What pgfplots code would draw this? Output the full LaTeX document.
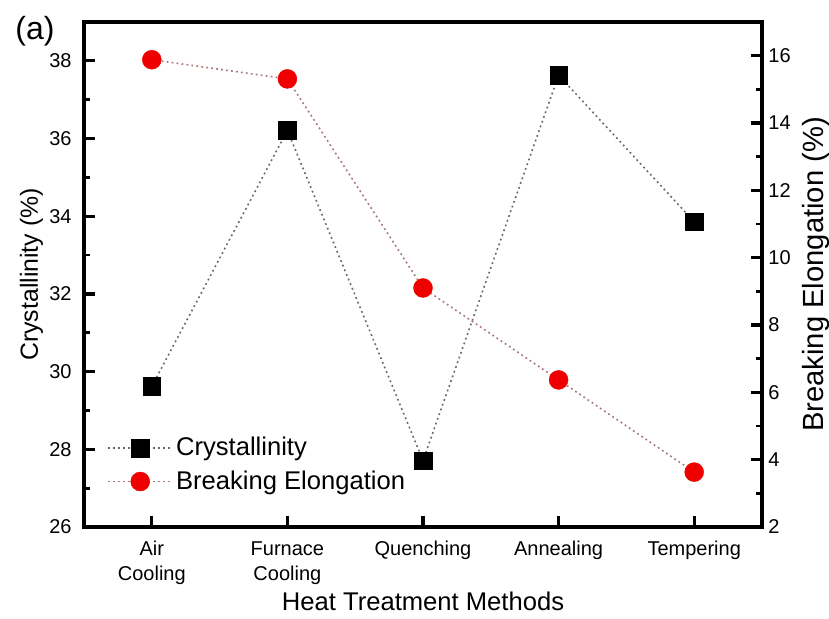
\documentclass[border=0pt]{standalone}
\usepackage{fontspec}
\setmainfont{Liberation Sans}
\usepackage{pgfplots}
\pgfplotsset{compat=1.18}

% Series colours
\definecolor{markred}{RGB}{238,0,0}
\definecolor{crysline}{RGB}{105,105,105}
\definecolor{elongline}{RGB}{170,120,120}

\pgfplotsset{
  common/.style={
    scale only axis,
    width=339pt, height=252.5pt,
    at={(42pt,45.5pt)}, anchor=south west,
    xmin=-0.5, xmax=4.5,
    tick align=inside,
    major tick length=5.5pt,
    minor tick length=3.2pt,
    every tick/.style={black, line width=1.6pt},
    every minor tick/.style={black, line width=1.4pt},
    minor y tick num=1,
    /pgf/number format/assume math mode=true,
    tick label style={font=\fontsize{10}{12}\selectfont},
    axis line style={line width=1.9pt},
    clip=false,
  },
  legend image code/.code={%
    \draw[mark repeat=2,mark phase=2,#1]
      plot coordinates {(0pt,0pt) (16pt,0pt) (32pt,0pt)};%
  },
}

\begin{document}
\begin{tikzpicture}
\path[use as bounding box] (0,0) rectangle (414.5pt,309pt);

% Left axis: crystallinity
\begin{axis}[
  common,
  ymin=26, ymax=39,
  ytick={26,28,30,32,34,36,38},
  xtick={0,1,2,3,4},
  xticklabels={{Air\\Cooling},{Furnace\\Cooling},Quenching,Annealing,Tempering},
  xtick pos=left, ytick pos=left,
  xticklabel style={align=center, anchor=north, inner sep=0pt, yshift=-7pt,
    font=\fontsize{10}{12.5}\selectfont},
  yticklabel style={inner sep=0pt, xshift=-6pt},
  xlabel={Heat Treatment Methods},
  ylabel={Crystallinity (\%)},
  xlabel style={at={(axis description cs:0.5,-0.1465)}, anchor=center,
    font=\fontsize{12.8}{15}\selectfont},
  ylabel style={at={(axis description cs:-0.0774,0.5)}, anchor=center, rotate=0,
    font=\fontsize{12.4}{15}\selectfont},
  legend style={at={(axis description cs:0.034,0.062)}, anchor=south west,
    draw=none, fill=none, inner sep=0pt, row sep=3pt,
    nodes={inner sep=1.5pt, font=\fontsize{12.8}{15}\selectfont}},
  legend cell align=left,
]
\addplot[crysline, line width=0.8pt, dash pattern=on 0.9pt off 1.6pt,
  mark=square*, mark size=4.4pt,
  mark options={solid, fill=black, draw=black, line width=0.2pt}]
  coordinates {(0,29.62) (1,36.21) (2,27.71) (3,37.63) (4,33.86)};
\addlegendentry{Crystallinity}
\addlegendimage{elongline, line width=0.8pt, dash pattern=on 0.9pt off 1.6pt,
  mark=*, mark size=4.75pt,
  mark options={solid, fill=markred, draw=markred, line width=0.2pt}}
\addlegendentry{Breaking Elongation}
\node[font=\fontsize{16}{18}\selectfont] at (axis description cs:-0.0723,0.982) {(a)};
\end{axis}

% Right axis: breaking elongation
\begin{axis}[
  common,
  ymin=2, ymax=17,
  ytick={2,4,6,8,10,12,14,16},
  axis x line=none,
  axis y line*=right,
  yticklabel style={inner sep=0pt, xshift=3pt},
  ylabel={Breaking Elongation (\%)},
  ylabel style={at={(axis description cs:1.0796,0.5)}, anchor=center, rotate=0,
    font=\fontsize{14.6}{16}\selectfont},
]
\addplot[elongline, line width=0.8pt, dash pattern=on 0.9pt off 1.6pt,
  mark=*, mark size=4.75pt,
  mark options={solid, fill=markred, draw=markred, line width=0.2pt}]
  coordinates {(0,15.88) (1,15.31) (2,9.10) (3,6.37) (4,3.63)};
\end{axis}
\end{tikzpicture}
\end{document}
